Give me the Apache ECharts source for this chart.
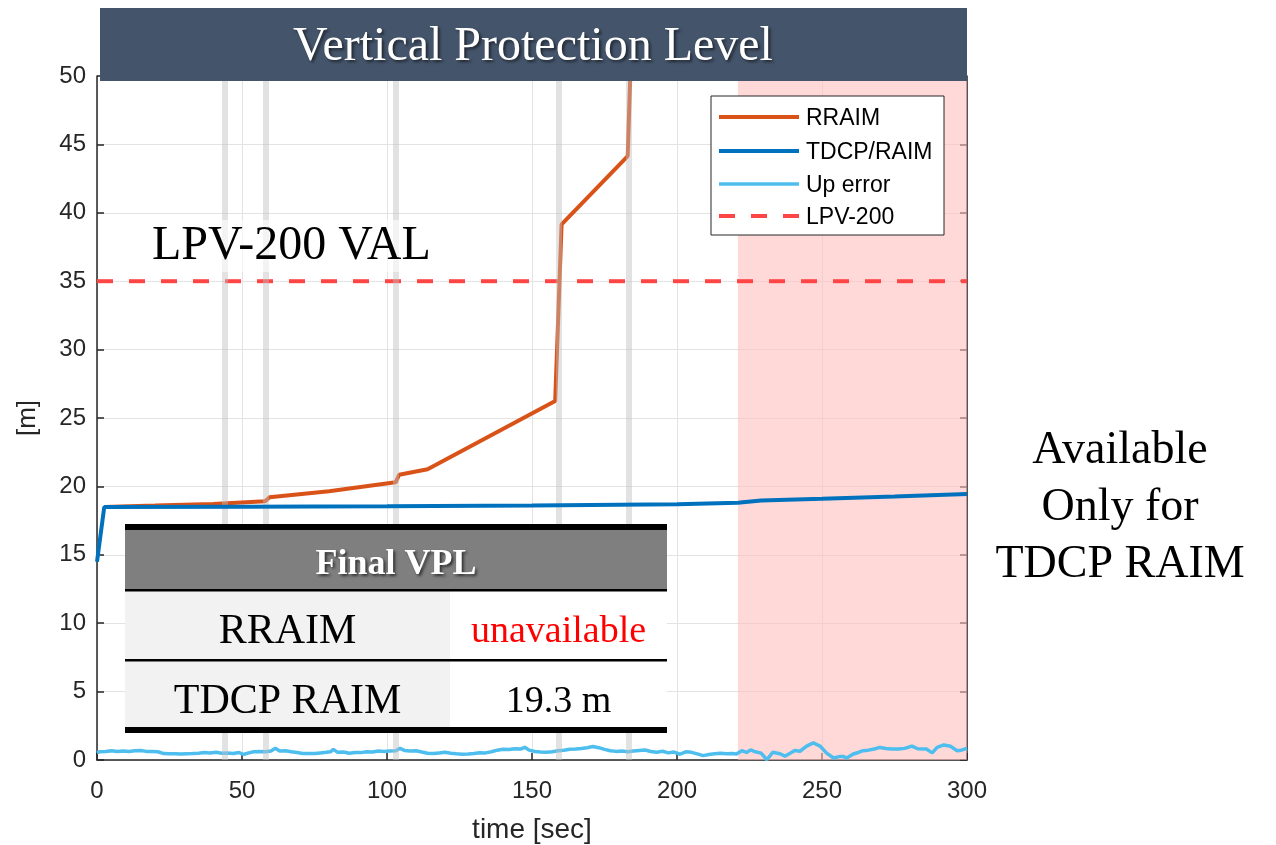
<!DOCTYPE html>
<html>
<head>
<meta charset="utf-8">
<script src="https://cdn.jsdelivr.net/npm/echarts@6/dist/echarts.min.js"></script>
<style>
  html, body { margin: 0; padding: 0; background: #fff; }
  #chart { width: 1276px; height: 845px; }
</style>
</head>
<body>
<div id="chart"></div>
<script>
// ---- data ----
const xTicks = [0, 50, 100, 150, 200, 250, 300];
const yTicks = [0, 5, 10, 15, 20, 25, 30, 35, 40, 45, 50];

// RRAIM vertical protection level [time s, m]
const rraimT = [2.5, 20, 40, 58, 59.5, 80, 103, 104.2, 114, 158, 160.2, 183, 184.2];
const rraimV = [18.5, 18.6, 18.72, 18.92, 19.2, 19.65, 20.3, 20.85, 21.25, 26.25, 39.15, 44.15, 52];

// TDCP/RAIM vertical protection level [time s, m]
const tdcpT = [0, 2.5, 50, 100, 150, 200, 221, 229, 250, 275, 300];
const tdcpV = [14.5, 18.5, 18.52, 18.55, 18.6, 18.7, 18.8, 18.97, 19.1, 19.27, 19.45];

// vertical position error (up) [time s, m]
const upT = [0, 1, 3, 5, 7, 9, 11, 13, 15, 17, 19, 21, 23, 25, 27, 29, 31, 33, 35, 37, 39, 41, 43, 45, 47, 49, 50.5, 52, 54, 56, 58, 60, 61.5, 63, 65, 67, 69, 71, 73, 75, 77, 79, 80.5, 81.5, 83, 85, 87, 89, 91, 93, 95, 97, 99, 101, 103, 104.5, 106, 108, 110, 112, 114, 116, 118, 120, 122, 124, 126, 128, 130, 132, 134, 136, 138, 140, 142, 144, 146, 147.5, 149, 151, 153, 155, 157, 159, 161, 163, 165, 167, 169, 171, 173, 175, 177, 179, 181, 183, 185, 187, 189, 191, 193, 195, 197, 199, 201, 203, 205, 207, 209, 211, 213, 215, 217, 219, 220.5, 222.3, 224, 225.4, 227, 229, 231, 233, 235.5, 237.2, 239, 240.6, 242.4, 244.7, 247, 249.3, 251.6, 254, 256, 257.3, 258.5, 260.8, 262.5, 264.2, 266, 268, 270, 272, 274, 276.4, 278.5, 281, 283, 286, 288, 289.7, 292, 294.3, 296.6, 298, 300];
const upV = [0.55, 0.6, 0.62, 0.68, 0.62, 0.66, 0.62, 0.67, 0.7, 0.63, 0.62, 0.6, 0.47, 0.45, 0.46, 0.44, 0.46, 0.47, 0.5, 0.55, 0.52, 0.56, 0.5, 0.52, 0.48, 0.55, 0.4, 0.5, 0.6, 0.62, 0.6, 0.66, 0.86, 0.66, 0.68, 0.6, 0.55, 0.48, 0.47, 0.48, 0.52, 0.56, 0.6, 0.78, 0.56, 0.58, 0.5, 0.55, 0.54, 0.6, 0.58, 0.66, 0.62, 0.65, 0.68, 0.85, 0.7, 0.66, 0.68, 0.58, 0.5, 0.48, 0.52, 0.56, 0.5, 0.45, 0.42, 0.44, 0.47, 0.53, 0.52, 0.6, 0.72, 0.78, 0.77, 0.82, 0.8, 0.93, 0.72, 0.62, 0.58, 0.56, 0.6, 0.68, 0.72, 0.78, 0.8, 0.84, 0.9, 0.98, 0.9, 0.78, 0.68, 0.63, 0.65, 0.6, 0.66, 0.7, 0.73, 0.62, 0.56, 0.64, 0.52, 0.58, 0.42, 0.6, 0.56, 0.45, 0.32, 0.4, 0.45, 0.5, 0.46, 0.48, 0.44, 0.68, 0.55, 0.74, 0.6, 0.5, 0.02, 0.56, 0.46, 0.28, 0.5, 0.7, 0.64, 1.02, 1.25, 1.02, 0.5, 0.15, 0.25, 0.26, 0.14, 0.44, 0.55, 0.68, 0.72, 0.8, 0.92, 0.84, 0.8, 0.8, 0.85, 1.02, 0.82, 0.8, 0.52, 0.92, 1.1, 1.0, 0.68, 0.72, 0.85];

// LPV-200 vertical alert limit [m]
const lpvVal = 35;
// epochs of note (grey markers) [s]
const eventTimes = [43.9, 58.2, 103.1, 159.2, 183.4];
// interval where only TDCP RAIM is available [s]
const tdcpOnlyRange = [221, 300];

// legend entries
const legendNames = ['RRAIM', 'TDCP/RAIM', 'Up error', 'LPV-200'];

// summary table
const tableTitle = 'Final VPL';
const tableRows = [
  { name: 'RRAIM', value: 'unavailable', color: '#ff0000' },
  { name: 'TDCP RAIM', value: '19.3 m', color: '#000000' }
];

const zip = (t, v) => t.map((x, i) => [x, v[i]]);

const chart = echarts.init(document.getElementById('chart'), null, { renderer: 'canvas' });

const axisColor = '#262626';
const serif = '"Liberation Serif", "Times New Roman", serif';
const sans = '"Liberation Sans", Arial, sans-serif';

const styles = {
  'RRAIM': { color: '#D95319', width: 4, type: 'solid' },
  'TDCP/RAIM': { color: '#0072BD', width: 4, type: 'solid' },
  'Up error': { color: '#4DBEEE', width: 3.5, type: 'solid' },
  'LPV-200': { color: '#ff4545', width: 4, type: [16, 16] }
};

// table geometry
const tb = { x: 125, w: 542, top: 527, headH: 63, rowH: 70, split: 450 };
const tableGraphics = [];
(function buildTable() {
  const x0 = tb.x, x1 = tb.x + tb.w;
  tableGraphics.push({ type: 'rect', shape: { x: x0, y: tb.top, width: tb.w, height: tb.headH }, style: { fill: '#7f7f7f' }, z: 100 });
  tableGraphics.push({ type: 'text', x: (x0 + x1) / 2, y: tb.top + tb.headH / 2 + 6, z: 102,
    style: { text: tableTitle, font: 'bold 36px ' + serif, fill: '#ffffff', align: 'center', verticalAlign: 'middle',
      textShadowColor: 'rgba(0,0,0,0.6)', textShadowBlur: 3, textShadowOffsetX: 2, textShadowOffsetY: 2 } });
  tableRows.forEach((r, i) => {
    const y = tb.top + tb.headH + i * tb.rowH;
    tableGraphics.push({ type: 'rect', shape: { x: x0, y: y, width: tb.split - x0, height: tb.rowH }, style: { fill: '#f2f2f2' }, z: 100 });
    tableGraphics.push({ type: 'rect', shape: { x: tb.split, y: y, width: x1 - tb.split, height: tb.rowH }, style: { fill: '#ffffff' }, z: 100 });
    tableGraphics.push({ type: 'text', x: (x0 + tb.split) / 2, y: y + tb.rowH / 2 + 7, z: 102,
      style: { text: r.name, font: '42px ' + serif, fill: '#000', align: 'center', verticalAlign: 'middle' } });
    tableGraphics.push({ type: 'text', x: (tb.split + x1) / 2, y: y + tb.rowH / 2 + 7, z: 102,
      style: { text: r.value, font: '38px ' + serif, fill: r.color, align: 'center', verticalAlign: 'middle' } });
    if (i < tableRows.length - 1) {
      tableGraphics.push({ type: 'rect', shape: { x: x0, y: y + tb.rowH - 1, width: tb.w, height: 2.5 }, style: { fill: '#000' }, z: 103 });
    }
  });
  const bottom = tb.top + tb.headH + tableRows.length * tb.rowH;
  tableGraphics.push({ type: 'rect', shape: { x: x0, y: tb.top - 3, width: tb.w, height: 6 }, style: { fill: '#000' }, z: 103 });
  tableGraphics.push({ type: 'rect', shape: { x: x0, y: tb.top + tb.headH - 1, width: tb.w, height: 2.5 }, style: { fill: '#000' }, z: 103 });
  tableGraphics.push({ type: 'rect', shape: { x: x0, y: bottom - 3, width: tb.w, height: 6 }, style: { fill: '#000' }, z: 103 });
})();

// legend box with line samples
const lg = { x: 711, y: 96, w: 233, h: 139, lineX0: 719, lineX1: 799, textX: 806, rows: [117, 151, 184, 216] };
const legendGraphics = [
  { type: 'rect', shape: { x: lg.x, y: lg.y, width: lg.w, height: lg.h }, style: { fill: '#ffffff', stroke: axisColor, lineWidth: 1 }, z: 50 }
];
legendNames.forEach((n, i) => {
  const s = styles[n];
  legendGraphics.push({ type: 'line', shape: { x1: lg.lineX0, y1: lg.rows[i], x2: lg.lineX1, y2: lg.rows[i] },
    style: { stroke: s.color, lineWidth: s.width, lineDash: Array.isArray(s.type) ? s.type : null }, z: 51 });
  legendGraphics.push({ type: 'text', x: lg.textX, y: lg.rows[i] + 2, z: 51,
    style: { text: n, font: '23px ' + sans, fill: '#000', align: 'left', verticalAlign: 'middle' } });
});

const lineSeries = (name, data, z) => ({
  name, type: 'line', data, showSymbol: false, symbol: 'none', z,
  lineStyle: { color: styles[name].color, width: styles[name].width, type: styles[name].type },
  itemStyle: { color: styles[name].color }
});

const option = {
  backgroundColor: '#ffffff',
  animation: false,
  grid: { left: 97, right: 309, top: 76, bottom: 85, containLabel: false, outerBoundsMode: 'none' },
  xAxis: [{
    type: 'value', min: 0, max: 300, interval: 50,
    axisLine: { show: true, onZero: false, lineStyle: { color: axisColor, width: 1.5 } },
    axisTick: { show: true, inside: true, length: 7, lineStyle: { color: axisColor, width: 1.5 } },
    axisLabel: { fontFamily: sans, fontSize: 24, color: axisColor, margin: 19,
      formatter: v => xTicks.includes(v) ? String(v) : '' },
    splitLine: { show: true, lineStyle: { color: '#e3e3e3', width: 1 } },
    name: 'time [sec]', nameLocation: 'middle', nameGap: 56,
    nameTextStyle: { fontFamily: sans, fontSize: 28, color: axisColor }
  }],
  yAxis: [{
    type: 'value', min: 0, max: 50, interval: 5,
    axisLine: { show: true, onZero: false, lineStyle: { color: axisColor, width: 1.5 } },
    axisTick: { show: true, inside: true, length: 7, lineStyle: { color: axisColor, width: 1.5 } },
    axisLabel: { fontFamily: sans, fontSize: 24, color: axisColor, margin: 11,
      formatter: v => yTicks.includes(v) ? String(v) : '' },
    splitLine: { show: true, lineStyle: { color: '#e3e3e3', width: 1 } },
    name: '[m]', nameLocation: 'middle', nameGap: 56, nameRotate: 90,
    nameTextStyle: { fontFamily: sans, fontSize: 26, color: axisColor }
  }, {
    type: 'value', min: 0, max: 50, interval: 5, position: 'right',
    axisLine: { show: true, onZero: false, lineStyle: { color: axisColor, width: 1.5 } },
    axisTick: { show: true, inside: true, length: 7, lineStyle: { color: axisColor, width: 1.5 } },
    axisLabel: { show: false },
    splitLine: { show: false }
  }],
  series: [
    {
      // region where RRAIM is unavailable
      name: 'tdcp-only', type: 'line', data: [], silent: true, z: 1,
      markArea: {
        silent: true,
        itemStyle: { color: 'rgba(255, 190, 190, 0.6)' },
        data: [[{ xAxis: tdcpOnlyRange[0] }, { xAxis: tdcpOnlyRange[1] }]]
      }
    },
    lineSeries('Up error', zip(upT, upV), 3),
    lineSeries('LPV-200', [[0, lpvVal], [300, lpvVal]], 3),
    lineSeries('RRAIM', zip(rraimT, rraimV), 4),
    lineSeries('TDCP/RAIM', zip(tdcpT, tdcpV), 5),
    {
      // grey epoch markers over the curves
      name: 'events', type: 'line', data: [], silent: true, z: 6,
      markLine: {
        silent: true, symbol: ['none', 'none'], label: { show: false },
        lineStyle: { color: 'rgba(190,190,190,0.45)', width: 6, type: 'solid' },
        data: eventTimes.map(t => ({ xAxis: t }))
      }
    }
  ],
  graphic: [
    // title banner
    { type: 'rect', shape: { x: 100, y: 8, width: 867, height: 73 }, style: { fill: '#44546A' }, z: 100 },
    { type: 'text', x: 533, y: 47, z: 101,
      style: { text: 'Vertical Protection Level', font: '48px ' + serif, fill: '#ffffff', align: 'center', verticalAlign: 'middle',
        textShadowColor: 'rgba(0,0,0,0.55)', textShadowBlur: 3, textShadowOffsetX: 2, textShadowOffsetY: 2 } },
    // alert limit caption
    { type: 'text', x: 152, y: 246, z: 20,
      style: { text: 'LPV-200 VAL', font: '48px ' + serif, fill: '#000', align: 'left', verticalAlign: 'middle',
        backgroundColor: 'rgba(255,255,255,0.6)', padding: [2, 0, 2, 0] } },
    // side note
    { type: 'text', x: 1120, y: 508, z: 20,
      style: { text: 'Available\nOnly for\nTDCP RAIM', font: '46px ' + serif, fill: '#000', align: 'center', verticalAlign: 'middle', lineHeight: 57 } }
  ].concat(legendGraphics, tableGraphics)
};

chart.setOption(option);
</script>
</body>
</html>
